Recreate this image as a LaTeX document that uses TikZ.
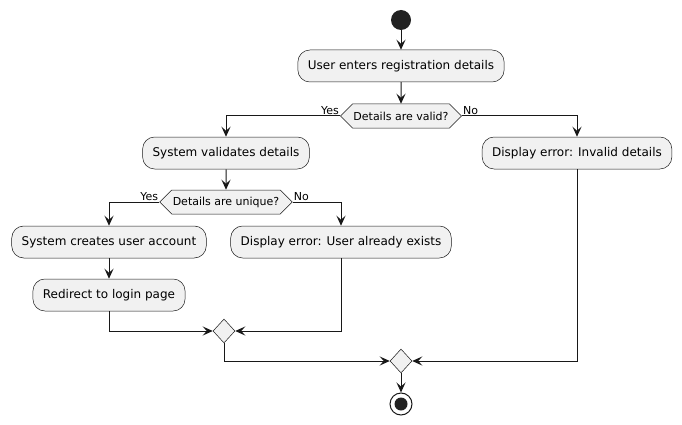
\documentclass[tikz,border=0pt]{standalone}
\usepackage{fontspec}
\setmainfont{DejaVu Sans}
\usetikzlibrary{arrows.meta,shapes.geometric,shapes.symbols}
\definecolor{boxfill}{HTML}{F1F1F1}
\definecolor{edge}{HTML}{181818}
\definecolor{dot}{HTML}{222222}
\begin{document}
\begin{tikzpicture}[x=1pt,y=-1pt,
  act/.style={draw=edge,fill=boxfill,line width=0.5pt,rounded corners=12pt,
    minimum height=32pt,inner xsep=10pt,font=\fontsize{12}{14}\selectfont},
  hexbox/.style={draw=edge,fill=boxfill,line width=0.5pt,shape=signal,
    signal to=east and west,signal pointer angle=90,minimum height=24pt,
    inner xsep=1pt,inner ysep=0pt,font=\fontsize{11}{13}\selectfont},
  merge/.style={draw=edge,fill=boxfill,line width=0.5pt,diamond,
    minimum width=22pt,minimum height=24pt,inner sep=0pt,aspect=0.9},
  lbl/.style={font=\fontsize{11}{13}\selectfont,inner sep=1pt,text=black},
  flow/.style={draw=edge,line width=1pt,-{Stealth[length=10pt,width=9pt,inset=4pt]}},
]
\useasboundingbox (0,0) rectangle (682,425);
\node[circle,fill=dot,minimum size=20pt,inner sep=0pt] (start) at (401,20) {};
\node[act] (reg) at (401,66) {User enters registration details};
\node[hexbox] (valid) at (401,116) {Details are valid?};
\node[act] (sysval) at (226,153) {System validates details};
\node[act] (errinv) at (577,153) {Display error: Invalid details};
\node[hexbox] (uniq) at (226,202) {Details are unique?};
\node[act] (create) at (109,242) {System creates user account};
\node[act] (exists) at (341,242) {Display error: User already exists};
\node[act] (redir) at (109,295) {Redirect to login page};
\node[merge] (m1) at (224,331) {};
\node[merge] (m2) at (401,361) {};
\node[circle,draw=edge,fill=white,line width=1pt,minimum size=22pt,inner sep=0pt] (stop) at (401,404) {};
\node[circle,fill=dot,minimum size=13pt,inner sep=0pt] (stopin) at (401,404) {};

\draw[flow] (start) -- (reg);
\draw[flow] (reg) -- (valid);
\draw[flow] (valid.west) -| (sysval.north);
\draw[flow] (valid.east) -| (errinv.north);
\node[lbl,anchor=south east] (yes1) at (valid.west) {Yes};
\node[lbl,anchor=south west] (no1) at (valid.east) {No};
\draw[flow] (sysval) -- (uniq);
\draw[flow] (uniq.west) -| (create.north);
\draw[flow] (uniq.east) -| (exists.north);
\node[lbl,anchor=south east] (yes2) at (uniq.west) {Yes};
\node[lbl,anchor=south west] (no2) at (uniq.east) {No};
\draw[flow] (create) -- (redir);
\draw[flow] (redir.south) |- (m1.west);
\draw[flow] (exists.south) |- (m1.east);
\draw[flow] (m1.south) |- (m2.west);
\draw[flow] (errinv.south) |- (m2.east);
\draw[flow] (m2.south) -- (stop.north);
\end{tikzpicture}
\end{document}
